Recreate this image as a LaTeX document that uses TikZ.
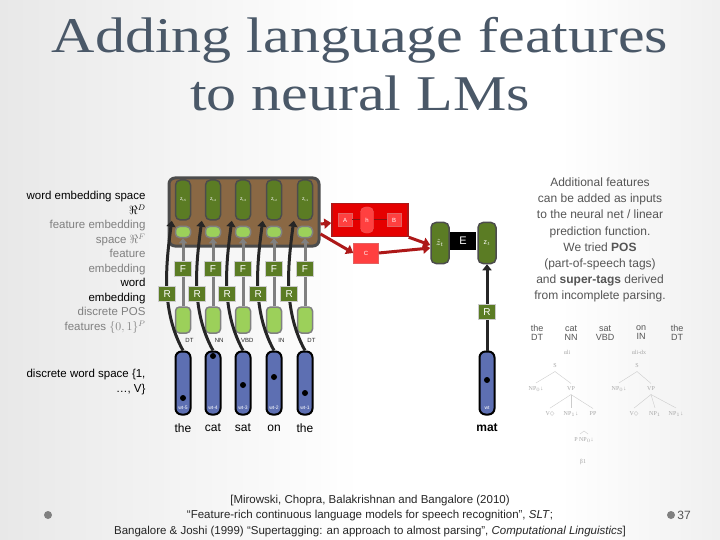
\documentclass[tikz,border=0pt]{standalone}
\usepackage{fontspec}
\setmainfont{Liberation Sans}
\newfontfamily\titlefont{Liberation Serif}
\newfontfamily\djv{DejaVu Sans}
\usetikzlibrary{arrows.meta,shapes.geometric}
\definecolor{zg}{HTML}{5B7C24}
\definecolor{lg}{HTML}{9CD05A}
\definecolor{wb}{HTML}{5D6FB2}
\definecolor{brn}{HTML}{8A6844}
\definecolor{rd}{HTML}{D81E1E}
\definecolor{tgrey}{HTML}{555555}
\definecolor{ttl}{HTML}{4A5868}
\tikzset{
 zn/.style={draw=gray!60!black,line width=1.5pt,fill=zg,rounded corners=5pt,minimum width=15pt,minimum height=40pt,inner sep=0pt,text=white,font=\fontsize{5}{6}\selectfont},
 ln/.style={draw=gray,line width=1.5pt,fill=lg,rounded corners=4pt,minimum width=15pt,inner sep=0pt},
 fb/.style={draw=gray!40,line width=0.8pt,fill=zg,minimum width=17pt,minimum height=15pt,inner sep=0pt,text=white,font=\fontsize{10}{10}\selectfont},
 wn/.style={draw=black,line width=2pt,fill=wb,rounded corners=6pt,minimum width=15pt,minimum height=63pt,inner sep=0pt},
 dotn/.style={circle,fill=black,inner sep=0pt,minimum size=6pt},
 wl/.style={font=\fontsize{5}{5}\selectfont,text=white},
 ca/.style={draw=gray!30!black,line width=3pt,-{Triangle[length=6pt,width=9pt]}},
 ga/.style={draw=gray,line width=3pt,-{Triangle[length=5pt,width=8pt]}},
 ra/.style={draw=rd!80!black,line width=3pt,-{Triangle[length=7pt,width=10pt]}},
 rbx/.style={draw=rd!70!white,fill=red!75!white,text=white,inner sep=0pt,minimum width=14pt,minimum height=13pt,font=\fontsize{6}{6}\selectfont},
 lab/.style={align=right,anchor=east,font=\fontsize{11.5}{14.5}\selectfont},
 tr/.style={text=gray!70,font=\fontsize{6}{6}\selectfont\titlefont},
}
\begin{document}
\begin{tikzpicture}[x=1pt,y=-1pt]
\shade[left color=gray!18,right color=white] (0,0) rectangle (360,540);
\fill[white] (360,0) rectangle (720,540);
\shade[left color=white,right color=gray!12] (560,0) rectangle (720,540);
\useasboundingbox (0,0) rectangle (720,540);
% title
\node[text=ttl,font=\titlefont\fontsize{50}{58}\selectfont,align=center] (title) at (360,64) {\scalebox{1.2}[1]{Adding language features}\\\scalebox{1.2}[1]{to neural LMs}};
% left labels
\node[lab,anchor=north east] (l1) at (149,188) {word embedding space\\$\Re^D$\\\textcolor{gray}{feature embedding}\\\textcolor{gray}{space $\Re^F$}\\\textcolor{gray}{feature}\\\textcolor{gray}{embedding}\\word\\embedding\\\textcolor{gray}{discrete POS}\\\textcolor{gray}{features $\{0,1\}^P$}};
\node[lab] (l5) at (149,382) {discrete word space \{1,\\\dots, V\}};
% grey box
\node[draw=gray!60!black,line width=3pt,fill=brn,rounded corners=6pt,minimum width=150pt,minimum height=68pt] (box) at (244,212) {};
\foreach \i/\x/\s/\p/\d in {1/183/5/DT/398,2/213/4/NN/356,3/243/3/VBD/385,4/274/2/IN/377,5/305/1/DT/393}{
  \node[zn] (z\i) at (\x,200) {z\raisebox{-1pt}{\fontsize{3}{3}\selectfont t-\s}};
  \node[ln,minimum height=11pt] (e\i) at (\x,232) {};
  \node[ln,minimum height=26pt] (p\i) at (\x,320) {};
  \node[font=\fontsize{6}{6}\selectfont,text=gray!30!black,anchor=north east] (pl\i) at (\x+14,335) {\p};
  \node[wn] (w\i) at (\x,383) {};
  \node[dotn] (d\i) at (\x,\d) {};
  \node[wl] (wl\i) at (\x,408) {wt-\s};
  \draw[ga] (p\i) -- (e\i) node[fb,pos=0.55] (f\i) {F};
}
\foreach \i/\w in {1/the,2/cat,3/sat,4/on,5/the}{
  \node[font=\fontsize{12}{12}\selectfont] (t\i) at (z\i |- 0,428) {\w};
}
\foreach \i in {1,...,5}{
  \draw[ca] (w\i.north) .. controls ++(-22,-40) and ++(-6,45) .. ([xshift=-3pt]z\i.south west) node[fb,pos=0.45] (r\i) {R};
}
% red block
\node[draw=rd!80!black,line width=1.5pt,fill=red!90!black,minimum width=76pt,minimum height=33pt] (red) at (370,220) {};
\node[rbx] (A) at (345,220) {A};
\node[rbx,rounded corners=5pt,minimum width=13pt,minimum height=26pt] (h) at (367,220) {h};
\node[rbx] (B) at (394,220) {B};
\node[rbx,minimum width=25pt,minimum height=20pt] (C) at (366,253) {C};
\draw[draw=rd!60!black,line width=1pt] (A) -- (h) -- (B);
\node[zn,minimum height=41pt,minimum width=18pt,font=\fontsize{9}{9}\selectfont] (zh) at (440,243) {$\hat{z}_t$};
\node[fill=black,text=white,minimum width=26pt,minimum height=18pt,inner sep=0pt,font=\fontsize{11}{11}\selectfont] (E) at (463,241) {E};
\node[zn,minimum height=41pt,minimum width=18pt,font=\fontsize{7}{7}\selectfont] (zt) at (487,243) {z$_t$};
\draw[ra] ([yshift=-12pt]box.east) -- ([yshift=-3pt]red.west);
\draw[ra] ([yshift=-22pt]box.east) -- (C.west);
\draw[ra] (red.south east) -- ([yshift=-2pt]zh.west);
\draw[ra] (C.east) -- ([yshift=-5pt]zh.west);
\node[wn] (wt) at (487,383) {};
\node[dotn] (dt) at (487,380) {};
\node[wl] (wtl) at (487,408) {wt};
\draw[ca] (wt) -- (zt) node[fb,pos=0.45] (rt) {R};
\node[font=\bfseries\fontsize{12}{12}\selectfont] (mat) at (487,428) {mat};
% right text
\node[align=center,text=tgrey,font=\fontsize{12}{16.2}\selectfont] (note) at (600,240) {Additional features\\can be added as inputs\\to the neural net / linear\\prediction function.\\We tried \textbf{POS}\\(part-of-speech tags)\\and \textbf{super-tags} derived\\from incomplete parsing.};
% super tags
\foreach \x/\w/\p/\n in {537/the/DT/a,571/cat/NN/b,605/sat/VBD/c,641/on/IN/d,677/the/DT/e}{
  \node[font=\fontsize{9}{9}\selectfont,text=tgrey,align=center] (s\n) at (\x,333) {\w\\\p};
}
\node[tr] (q1) at (567,352) {αli};
\node[tr] (q2) at (639,352) {αli-dx};
\node[tr] (S1) at (555,366) {S};
\node[tr] (S2) at (637,366) {S};
\node[tr] (n1) at (536,389) {NP$_0$↓};
\node[tr] (v1) at (571,389) {VP};
\node[tr] (n2) at (619,389) {NP$_0$↓};
\node[tr] (v2) at (651,389) {VP};
\node[tr] (a1) at (550,414) {V{\djv ◇}};
\node[tr] (a2) at (571,414) {NP$_1$↓};
\node[tr] (a3) at (593,414) {PP};
\node[tr] (b1) at (634,414) {V{\djv ◇}};
\node[tr] (b2) at (655,414) {NP$_1$};
\node[tr] (b3) at (676,414) {NP$_1$↓};
\node[tr] (pp) at (584,440) {P NP$_0$↓};
\node[tr] (bs) at (583,462) {β1};
\foreach \a/\b in {S1/n1,S1/v1,S2/n2,S2/v2,v1/a1,v1/a2,v1/a3,v2/b1,v2/b2,v2/b3}{\draw[gray!40,line width=0.4pt] (\a.south) -- (\b.north);}
\coordinate (pp1) at (580,434); \coordinate (pp2) at (588,434);
\draw[gray!40,line width=0.4pt] (pp1) -- (584,431) -- (pp2);
% citation
\node[align=center,font=\fontsize{11.5}{15.5}\selectfont,text=black!85] (cite) at (370,516) {[Mirowski, Chopra, Balakrishnan and Bangalore (2010)\\``Feature-rich continuous language models for speech recognition'', \textit{SLT};\\Bangalore \& Joshi (1999) ``Supertagging: an approach to almost parsing'', \textit{Computational Linguistics}]};
\node[circle,fill=gray,inner sep=0pt,minimum size=8pt] (b1l) at (48,515) {};
\node[circle,fill=gray,inner sep=0pt,minimum size=8pt] (b2r) at (671,515) {};
\node[font=\fontsize{12}{12}\selectfont,text=tgrey] (pg) at (684,515) {37};
\end{tikzpicture}
\end{document}
